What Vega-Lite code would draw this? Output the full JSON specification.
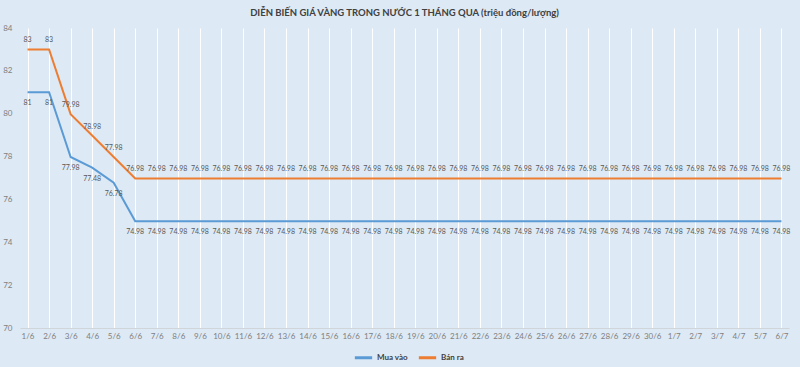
{
  "$schema": "https://vega.github.io/schema/vega-lite/v6.json",
  "autosize": "none",
  "width": 769,
  "height": 300,
  "padding": {"left": 20, "top": 28, "right": 11, "bottom": 39},
  "background": "#dde9f5",
  "config": {
    "font": "Lato",
    "view": {"stroke": null},
    "axis": {"labelFont": "Lato", "labelColor": "#7f7f7f", "labelFontSize": 8}
  },
  "title": {
    "text": "DIỄN BIẾN GIÁ VÀNG TRONG NƯỚC 1 THÁNG QUA (triệu đồng/lượng)",
    "anchor": "middle",
    "fontSize": 9.5,
    "fontWeight": "bold",
    "color": "#404040",
    "font": "Lato",
    "offset": 7
  },
  "data": {
    "values": [
      {"d": "1/6", "s": "Mua vào", "v": 81}, {"d": "1/6", "s": "Bán ra", "v": 83},
      {"d": "2/6", "s": "Mua vào", "v": 81}, {"d": "2/6", "s": "Bán ra", "v": 83},
      {"d": "3/6", "s": "Mua vào", "v": 77.98}, {"d": "3/6", "s": "Bán ra", "v": 79.98},
      {"d": "4/6", "s": "Mua vào", "v": 77.48}, {"d": "4/6", "s": "Bán ra", "v": 78.98},
      {"d": "5/6", "s": "Mua vào", "v": 76.78}, {"d": "5/6", "s": "Bán ra", "v": 77.98},
      {"d": "6/6", "s": "Mua vào", "v": 74.98}, {"d": "6/6", "s": "Bán ra", "v": 76.98},
      {"d": "7/6", "s": "Mua vào", "v": 74.98}, {"d": "7/6", "s": "Bán ra", "v": 76.98},
      {"d": "8/6", "s": "Mua vào", "v": 74.98}, {"d": "8/6", "s": "Bán ra", "v": 76.98},
      {"d": "9/6", "s": "Mua vào", "v": 74.98}, {"d": "9/6", "s": "Bán ra", "v": 76.98},
      {"d": "10/6", "s": "Mua vào", "v": 74.98}, {"d": "10/6", "s": "Bán ra", "v": 76.98},
      {"d": "11/6", "s": "Mua vào", "v": 74.98}, {"d": "11/6", "s": "Bán ra", "v": 76.98},
      {"d": "12/6", "s": "Mua vào", "v": 74.98}, {"d": "12/6", "s": "Bán ra", "v": 76.98},
      {"d": "13/6", "s": "Mua vào", "v": 74.98}, {"d": "13/6", "s": "Bán ra", "v": 76.98},
      {"d": "14/6", "s": "Mua vào", "v": 74.98}, {"d": "14/6", "s": "Bán ra", "v": 76.98},
      {"d": "15/6", "s": "Mua vào", "v": 74.98}, {"d": "15/6", "s": "Bán ra", "v": 76.98},
      {"d": "16/6", "s": "Mua vào", "v": 74.98}, {"d": "16/6", "s": "Bán ra", "v": 76.98},
      {"d": "17/6", "s": "Mua vào", "v": 74.98}, {"d": "17/6", "s": "Bán ra", "v": 76.98},
      {"d": "18/6", "s": "Mua vào", "v": 74.98}, {"d": "18/6", "s": "Bán ra", "v": 76.98},
      {"d": "19/6", "s": "Mua vào", "v": 74.98}, {"d": "19/6", "s": "Bán ra", "v": 76.98},
      {"d": "20/6", "s": "Mua vào", "v": 74.98}, {"d": "20/6", "s": "Bán ra", "v": 76.98},
      {"d": "21/6", "s": "Mua vào", "v": 74.98}, {"d": "21/6", "s": "Bán ra", "v": 76.98},
      {"d": "22/6", "s": "Mua vào", "v": 74.98}, {"d": "22/6", "s": "Bán ra", "v": 76.98},
      {"d": "23/6", "s": "Mua vào", "v": 74.98}, {"d": "23/6", "s": "Bán ra", "v": 76.98},
      {"d": "24/6", "s": "Mua vào", "v": 74.98}, {"d": "24/6", "s": "Bán ra", "v": 76.98},
      {"d": "25/6", "s": "Mua vào", "v": 74.98}, {"d": "25/6", "s": "Bán ra", "v": 76.98},
      {"d": "26/6", "s": "Mua vào", "v": 74.98}, {"d": "26/6", "s": "Bán ra", "v": 76.98},
      {"d": "27/6", "s": "Mua vào", "v": 74.98}, {"d": "27/6", "s": "Bán ra", "v": 76.98},
      {"d": "28/6", "s": "Mua vào", "v": 74.98}, {"d": "28/6", "s": "Bán ra", "v": 76.98},
      {"d": "29/6", "s": "Mua vào", "v": 74.98}, {"d": "29/6", "s": "Bán ra", "v": 76.98},
      {"d": "30/6", "s": "Mua vào", "v": 74.98}, {"d": "30/6", "s": "Bán ra", "v": 76.98},
      {"d": "1/7", "s": "Mua vào", "v": 74.98}, {"d": "1/7", "s": "Bán ra", "v": 76.98},
      {"d": "2/7", "s": "Mua vào", "v": 74.98}, {"d": "2/7", "s": "Bán ra", "v": 76.98},
      {"d": "3/7", "s": "Mua vào", "v": 74.98}, {"d": "3/7", "s": "Bán ra", "v": 76.98},
      {"d": "4/7", "s": "Mua vào", "v": 74.98}, {"d": "4/7", "s": "Bán ra", "v": 76.98},
      {"d": "5/7", "s": "Mua vào", "v": 74.98}, {"d": "5/7", "s": "Bán ra", "v": 76.98},
      {"d": "6/7", "s": "Mua vào", "v": 74.98}, {"d": "6/7", "s": "Bán ra", "v": 76.98}
    ]
  },
  "encoding": {
    "x": {
      "field": "d", "type": "ordinal", "sort": null,
      "scale": {"type": "point", "padding": 0.35},
      "axis": {
        "title": null, "labelAngle": 0, "ticks": false,
        "domainColor": "#d0d5da", "domainWidth": 1,
        "grid": true, "gridColor": "#ffffff", "gridWidth": 1,
        "labelPadding": 4
      }
    },
    "y": {
      "field": "v", "type": "quantitative",
      "scale": {"domain": [70, 84], "nice": false, "zero": false},
      "axis": {
        "title": null, "values": [70, 72, 74, 76, 78, 80, 82, 84],
        "grid": false, "domain": false, "ticks": false,
        "labelPadding": 8
      }
    }
  },
  "layer": [
    {
      "mark": {"type": "line", "strokeWidth": 2},
      "encoding": {
        "color": {
          "field": "s", "type": "nominal",
          "sort": ["Mua vào", "Bán ra"],
          "scale": {"domain": ["Mua vào", "Bán ra"], "range": ["#5b9bd5", "#ed7d31"]},
          "legend": {
            "title": null, "orient": "none", "direction": "horizontal",
            "legendX": 333, "legendY": 319,
            "symbolType": "stroke", "symbolSize": 300, "symbolStrokeWidth": 3,
            "labelFont": "Lato", "labelFontSize": 8, "labelFontWeight": "bold",
            "labelColor": "#404040", "columnPadding": 4, "labelOffset": 3
          }
        }
      }
    },
    {
      "transform": [{"filter": "datum.s === 'Bán ra'"}],
      "mark": {"type": "text", "dy": -9, "fontSize": 7, "color": "#595959", "font": "Lato"},
      "encoding": {"text": {"field": "v", "type": "quantitative"}}
    },
    {
      "transform": [{"filter": "datum.s === 'Mua vào'"}],
      "mark": {"type": "text", "dy": 11, "fontSize": 7, "color": "#595959", "font": "Lato"},
      "encoding": {"text": {"field": "v", "type": "quantitative"}}
    }
  ]
}
